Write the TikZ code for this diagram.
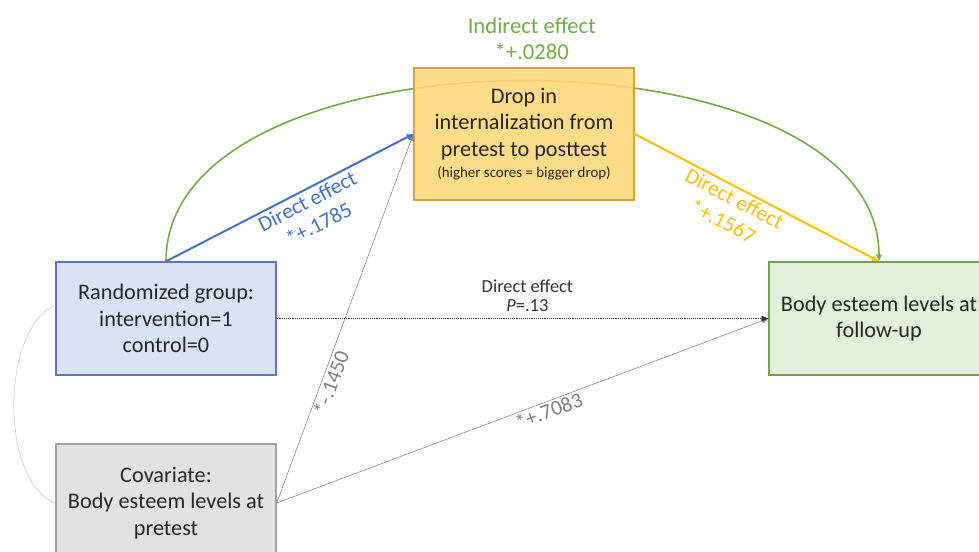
\documentclass[tikz,border=0pt]{standalone}
\usepackage{fontspec}
\setmainfont{Carlito}
\usetikzlibrary{arrows.meta}
\definecolor{effblue}{RGB}{68,114,196}
\definecolor{groupblue}{RGB}{218,227,243}
\definecolor{groupborder}{RGB}{95,115,190}
\definecolor{effgreen}{RGB}{112,173,71}
\definecolor{outgreen}{RGB}{226,239,218}
\definecolor{outborder}{RGB}{112,160,80}
\definecolor{dropfill}{RGB}{255,215,120}
\definecolor{dropborder}{RGB}{214,165,58}
\definecolor{effgold}{RGB}{255,192,0}
\definecolor{covgray}{RGB}{226,226,226}
\definecolor{covborder}{RGB}{160,160,160}
\definecolor{pathgray}{RGB}{128,128,128}

\begin{document}
\begin{tikzpicture}[
  x=0.75pt, y=-0.75pt,
  box/.style={rectangle, draw, line width=1pt, align=center, minimum width=165pt, text=black!85, font=\fontsize{16.7}{20}\selectfont},
  effect/.style={align=center, sloped, font=\fontsize{16.2}{19}\selectfont},
  link/.style={-{Triangle[length=5pt,width=4pt]}}
]
\useasboundingbox (0,0) rectangle (979,551);

\node[box, fill=groupblue, draw=groupborder, minimum height=84.75pt] (group) at (166,318.5) {Randomized group:\\intervention=1\\control=0};
\node[box, fill=covgray, draw=covborder, minimum height=88.5pt] (cov) at (166,503) {Covariate:\\Body esteem levels at\\pretest};
\node[box, fill=outgreen, draw=outborder, minimum height=84.75pt] (esteem) at (879,318.5) {Body esteem levels at\\follow-up};

\draw[link, effgreen, line width=1.2pt] (group.north) .. controls +(0,-240) and +(0,-240) .. (esteem.north)
  node[pos=0.5, above=12pt, xshift=7pt, align=center, text=effgreen, font=\fontsize{17}{19.5}\selectfont] (indirect) {Indirect effect\\*+.0280};

\node[box, fill=dropfill, fill opacity=0.88, text opacity=1, draw=dropborder, minimum height=99pt] (drop) at (524,134)
  {Drop in\\internalization from\\pretest to posttest\\[-4pt]{\fontsize{11.2}{12}\selectfont(higher scores = bigger drop)}};

\draw[link, pathgray] (cov.east) -- node[effect, below, pos=0.335, inner sep=1pt, text=pathgray, font=\fontsize{16}{17}\selectfont] (covdrop) {*-.1450} (drop.west);
\draw[link, pathgray] (cov.east) -- node[effect, below, pos=0.547, inner sep=1pt, text=pathgray, font=\fontsize{16}{17}\selectfont] (covesteem) {*+.7083} (esteem.west);
\draw[link, effblue, line width=1.5pt] (group.north) -- node[effect, below, pos=0.55, inner sep=2pt, text=effblue] (groupdrop) {Direct effect\\*+.1785} (drop.west);
\draw[link, effgold, line width=1.5pt] (drop.east) -- node[effect, below, pos=0.43, inner sep=2pt, text=effgold] (dropesteem) {Direct effect\\*+.1567} (esteem.north);
\draw[link, densely dotted, black!80] (group.east) -- node[above, pos=0.51, align=center, inner sep=5pt, font=\fontsize{13.8}{14}\selectfont] (direct) {Direct effect\\\textit{P}=.13} (esteem.west);
\draw[black!22] (group.173) .. controls (0,330) and (0,482) .. (cov.west);

\end{tikzpicture}
\end{document}
